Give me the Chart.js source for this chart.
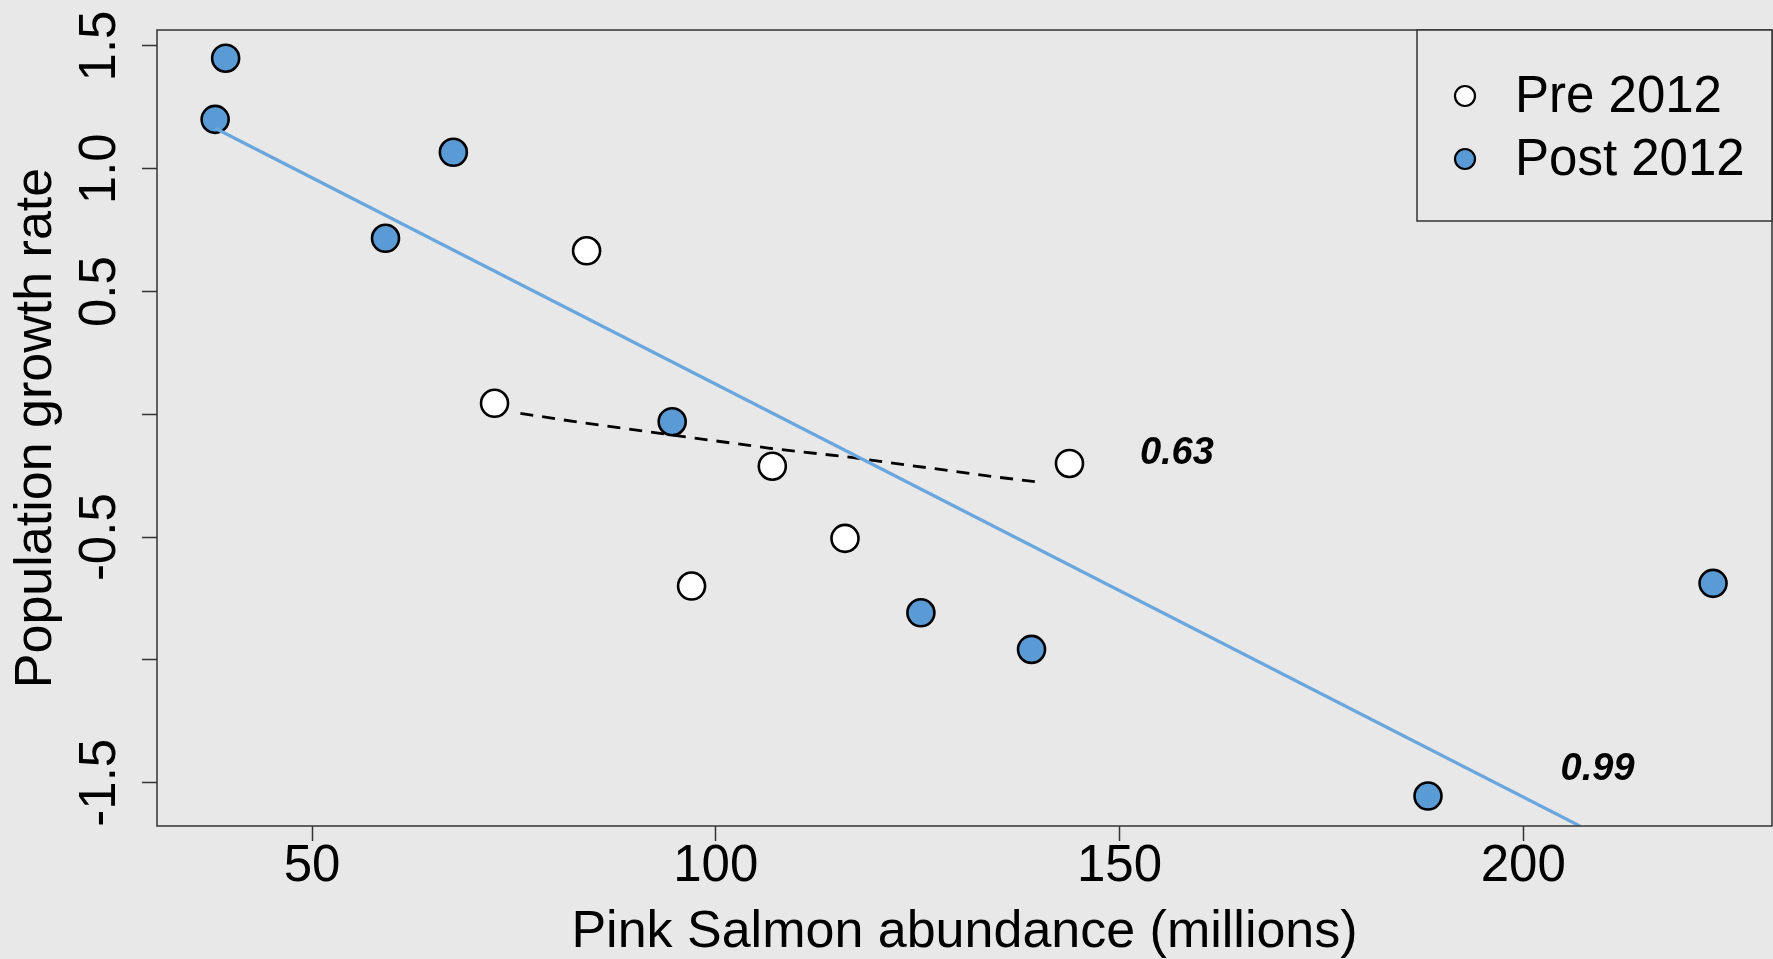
<!DOCTYPE html>
<html>
<head>
<meta charset="utf-8">
<title>Pink Salmon abundance vs population growth rate</title>
<script src="https://cdn.jsdelivr.net/npm/chart.js@4.4.1/dist/chart.umd.min.js"></script>
<style>
  html, body { margin: 0; padding: 0; background: #e8e8e8; overflow: hidden; }
  #container { display: block; }
</style>
</head>
<body>
<canvas id="container" width="1773" height="959"></canvas>
<script>
// points (abundance in millions, growth rate)
const PRE_X = [84.0, 72.6, 107.0, 143.8, 116.0, 97.0];
const PRE_Y = [0.666, 0.045, -0.211, -0.2, -0.505, -0.699];

const POST_X = [39.3, 38.0, 67.5, 59.1, 94.6, 125.4, 139.1, 188.2, 223.5];
const POST_Y = [1.45, 1.201, 1.067, 0.717, -0.03, -0.808, -0.957, -1.554, -0.688];

// fitted lines
const POST_FIT_X = [38.0, 207.0];
const POST_FIT_Y = [1.165, -1.676];
const PRE_FIT_X = [75.8, 83.2, 94.6, 106.7, 116.2, 135.2, 139.6];
const PRE_FIT_Y = [0.004, -0.033, -0.084, -0.138, -0.173, -0.257, -0.274];

// r values written next to the lines
const R_TEXT = ["0.63", "0.99"];
const R_X = [157.1, 209.2];
const R_Y = [-0.159, -1.448];

const X_TICKS = [50, 100, 150, 200];
const Y_TICKS = [-1.5, -1, -0.5, 0, 0.5, 1, 1.5];
const Y_TICK_LABELS = ["-1.5", "", "-0.5", "", "0.5", "1.0", "1.5"];

const X_MIN = 30.8;
const X_MAX = 230.8;
const Y_MIN = -1.676;
const Y_MAX = 1.565;

const BLUE = "#5b9bd5";
const FIT_BLUE = "#6aa6de";
const FRAME = "#333333";
const FONT = "'Liberation Sans', Arial, sans-serif";

const toPoints = (xs, ys) => xs.map((x, i) => ({ x: x, y: ys[i] }));

// R style box round the plot plus the legend in the top right corner
const frameAndLegend = {
  id: "frameAndLegend",
  afterDraw(chart) {
    const { ctx, chartArea } = chart;
    const xs = chart.scales.x;
    const ys = chart.scales.y;
    ctx.save();
    ctx.lineWidth = 1.5;
    ctx.strokeStyle = FRAME;
    ctx.strokeRect(chartArea.left, chartArea.top, chartArea.right - chartArea.left, chartArea.bottom - chartArea.top);

    // legend
    const boxLeft = 1417;
    const boxBottom = 221;
    ctx.fillStyle = "#e8e8e8";
    ctx.fillRect(boxLeft, chartArea.top, chartArea.right - boxLeft, boxBottom - chartArea.top);
    ctx.strokeRect(boxLeft, chartArea.top, chartArea.right - boxLeft, boxBottom - chartArea.top);

    const entries = chart.data.datasets.filter((d) => d.inLegend);
    const rowY = [96, 159];
    ctx.font = "51px " + FONT;
    ctx.textAlign = "left";
    ctx.textBaseline = "middle";
    entries.forEach((d, i) => {
      ctx.beginPath();
      ctx.arc(1465, rowY[i], 10, 0, Math.PI * 2);
      ctx.fillStyle = d.backgroundColor;
      ctx.fill();
      ctx.lineWidth = 2.2;
      ctx.strokeStyle = "#000";
      ctx.stroke();
      ctx.fillStyle = "#000";
      ctx.fillText(d.label, 1515, rowY[i] + 2);
    });

    // r values
    ctx.font = "italic bold 38px " + FONT;
    ctx.textAlign = "center";
    R_TEXT.forEach((t, i) => {
      ctx.fillText(t, xs.getPixelForValue(R_X[i]), ys.getPixelForValue(R_Y[i]));
    });
    ctx.restore();
  },
};

function chart_init() {
  Chart.defaults.font.family = FONT;
  Chart.defaults.color = "#000";

  const data = {
    datasets: [
      {
        type: "line",
        label: "post fit",
        data: toPoints(POST_FIT_X, POST_FIT_Y),
        borderColor: FIT_BLUE,
        borderWidth: 3.2,
        pointRadius: 0,
        showLine: true,
        order: 0,
      },
      {
        type: "line",
        label: "pre fit",
        data: toPoints(PRE_FIT_X, PRE_FIT_Y),
        borderColor: "#000",
        borderWidth: 2.8,
        borderDash: [13, 9],
        pointRadius: 0,
        showLine: true,
        order: 0,
      },
      {
        label: "Pre 2012",
        inLegend: true,
        data: toPoints(PRE_X, PRE_Y),
        backgroundColor: "#ffffff",
        borderColor: "#000",
        borderWidth: 2.6,
        pointRadius: 13.5,
        order: 1,
      },
      {
        label: "Post 2012",
        inLegend: true,
        data: toPoints(POST_X, POST_Y),
        backgroundColor: BLUE,
        borderColor: "#000",
        borderWidth: 2.6,
        pointRadius: 13.5,
        order: 1,
      },
    ],
  };

  new Chart(document.getElementById("container"), {
    type: "scatter",
    data: data,
    plugins: [frameAndLegend],
    options: {
      responsive: false,
      animation: false,
      layout: {
        autoPadding: false,
        padding: { top: 30, right: 1, left: 0, bottom: 0 },
      },
      plugins: {
        legend: { display: false },
        tooltip: { enabled: false },
      },
      scales: {
        x: {
          type: "linear",
          min: X_MIN,
          max: X_MAX,
          afterBuildTicks: (s) => {
            s.ticks = X_TICKS.map((v) => ({ value: v }));
          },
          afterFit: (s) => {
            s.height = 133;
          },
          border: { display: false },
          grid: {
            drawOnChartArea: false,
            drawTicks: true,
            tickLength: 15,
            tickColor: FRAME,
            tickWidth: 1.5,
          },
          ticks: {
            autoSkip: false,
            maxRotation: 0,
            padding: 0,
            color: "#000",
            font: { size: 51, lineHeight: 1 },
          },
          title: {
            display: true,
            text: "Pink Salmon abundance (millions)",
            color: "#000",
            font: { size: 52, lineHeight: 1 },
            padding: { top: 0, bottom: 0 },
          },
        },
        y: {
          type: "linear",
          min: Y_MIN,
          max: Y_MAX,
          afterBuildTicks: (s) => {
            s.ticks = Y_TICKS.map((v) => ({ value: v }));
          },
          afterFit: (s) => {
            s.width = 157;
          },
          border: { display: false },
          grid: {
            drawOnChartArea: false,
            drawTicks: true,
            tickLength: 15,
            tickColor: FRAME,
            tickWidth: 1.5,
          },
          ticks: {
            autoSkip: false,
            minRotation: 90,
            maxRotation: 90,
            crossAlign: "center",
            padding: -3,
            color: "#000",
            font: { size: 51, lineHeight: 1 },
            callback: (value, index) => Y_TICK_LABELS[index],
          },
          title: {
            display: true,
            text: "Population growth rate",
            color: "#000",
            font: { size: 52, lineHeight: 1 },
            padding: { top: 11, bottom: 0 },
          },
        },
      },
    },
  });
}

chart_init();
</script>
</body>
</html>
